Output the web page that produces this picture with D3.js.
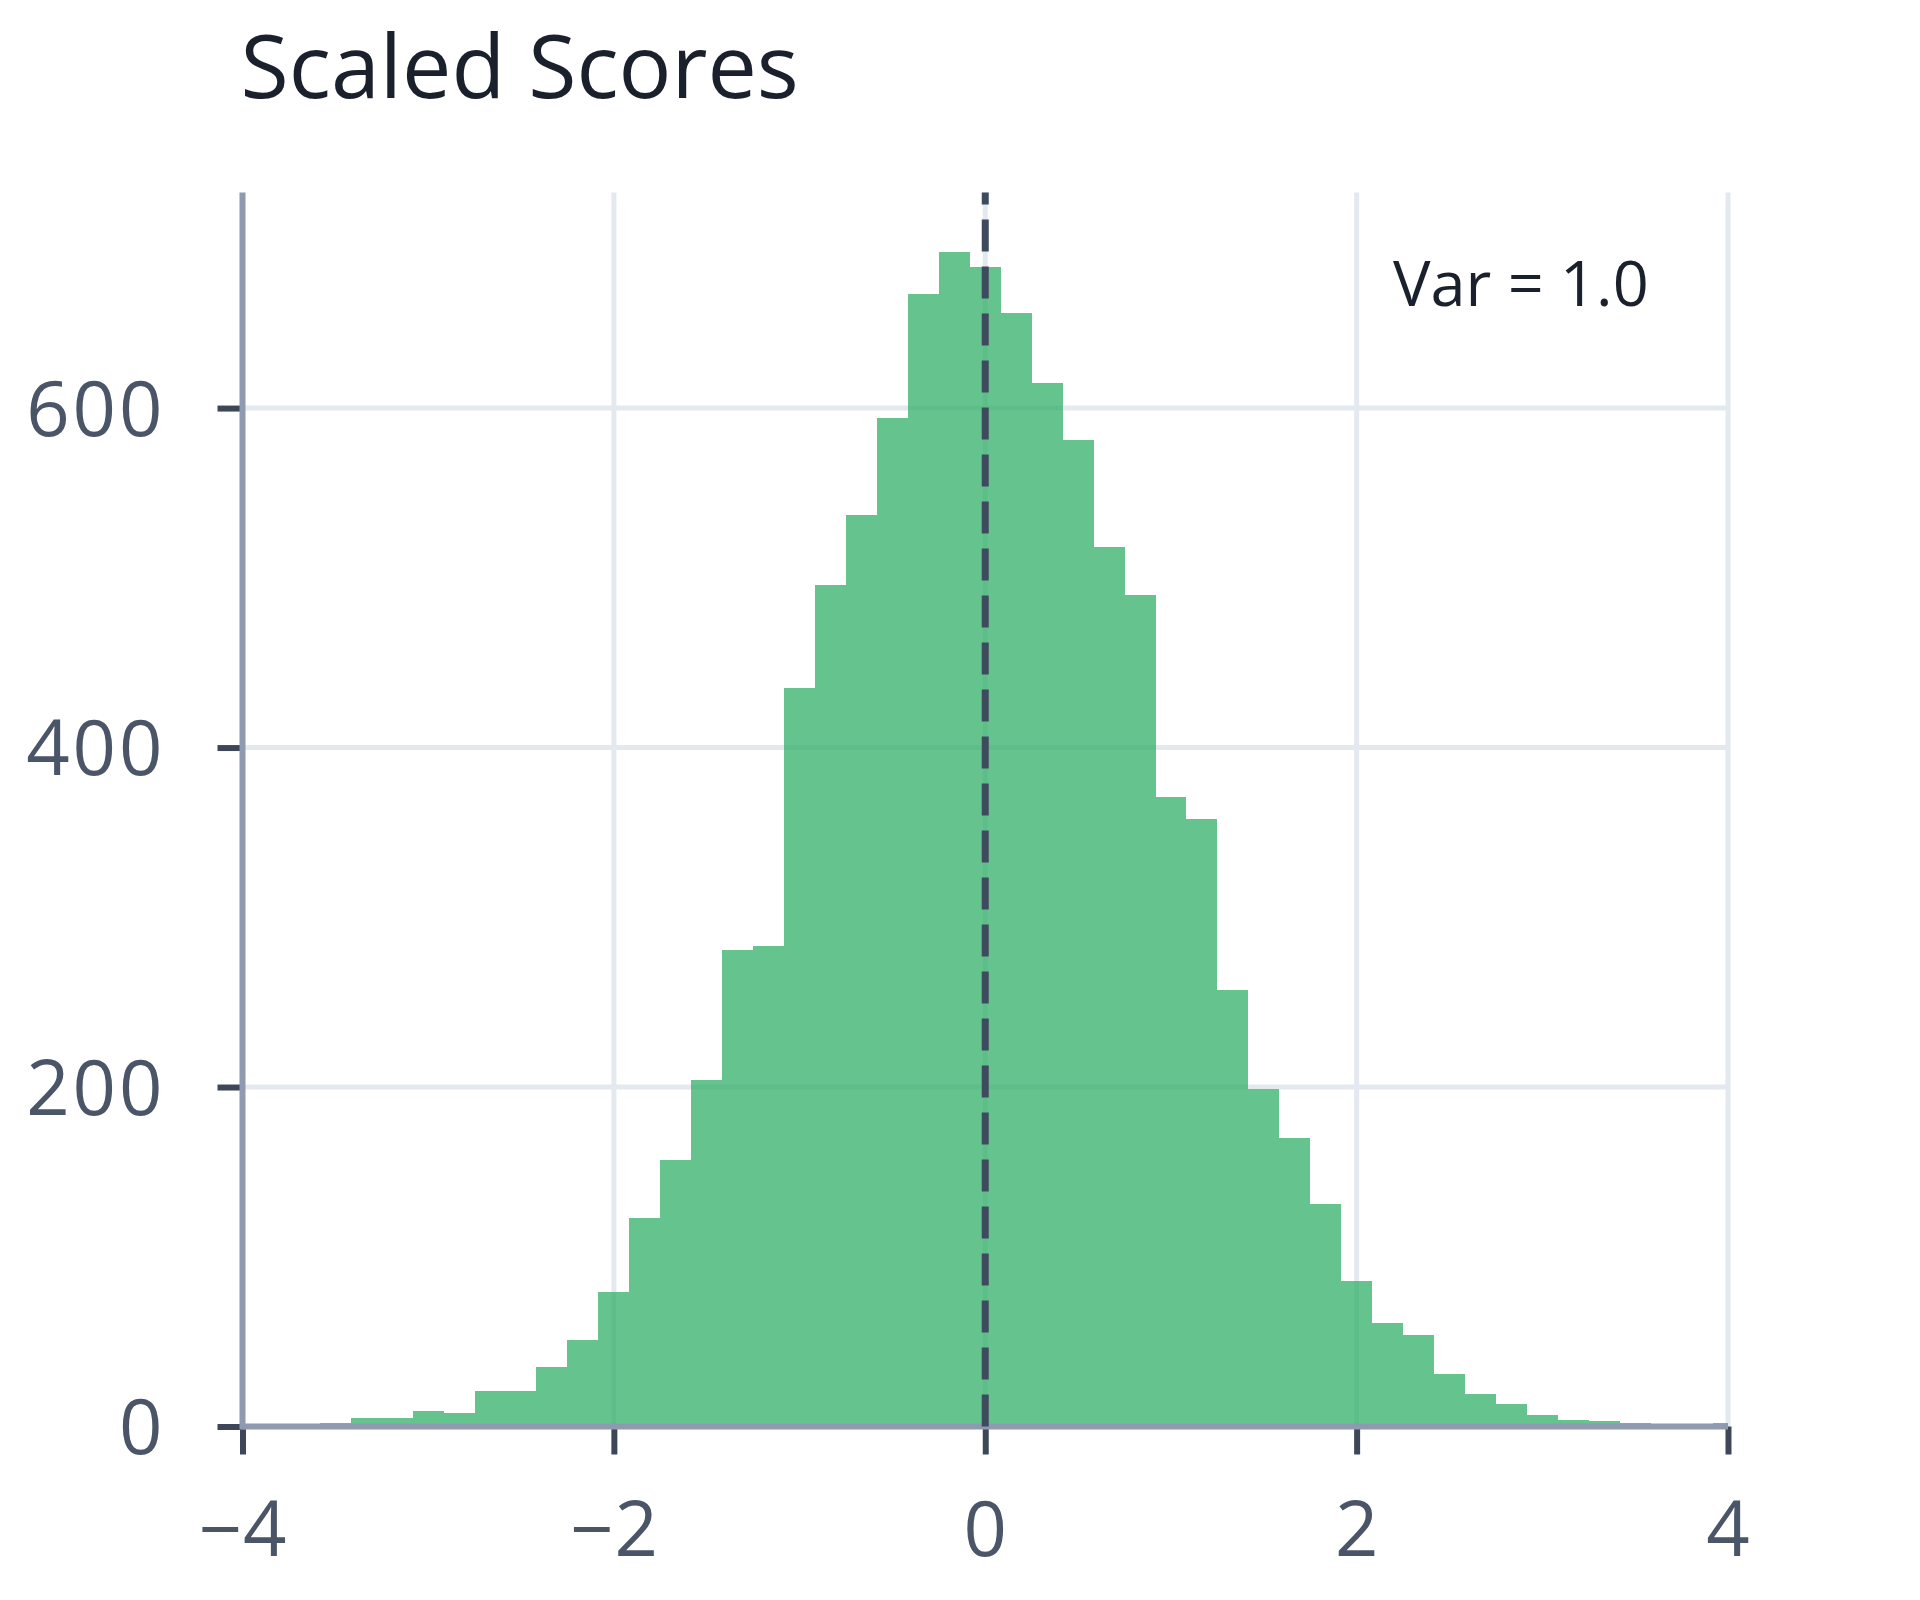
<!DOCTYPE html>
<html>
<head>
<meta charset="utf-8">
<title>Scaled Scores</title>
<script src="https://cdn.jsdelivr.net/npm/d3@7"></script>
<style>
    html, body { margin: 0; padding: 0; background: #fff; }
    #chart { width: 1920px; height: 1600px; }
    text { font-family: "Open Sans", "Noto Sans", sans-serif; }
</style>
</head>
<body>
<div id="chart"></div>
<script>
/* --- Data --- */
const binLeftEdges = [
    -3.583, -3.417, -3.250, -3.083, -2.917, -2.750, -2.583, -2.417, -2.250, -2.083,
    -1.917, -1.750, -1.583, -1.417, -1.250, -1.083, -0.917, -0.750, -0.583, -0.417,
    -0.250, -0.083, 0.083, 0.250, 0.417, 0.583, 0.750, 0.917, 1.083, 1.250,
    1.417, 1.583, 1.750, 1.917, 2.083, 2.250, 2.417, 2.583, 2.750, 2.917,
    3.083, 3.250, 3.417, 3.583, 3.750, 3.917
];
const binWidth = 0.1667;
const counts = [
    2, 5, 5, 9, 8, 21, 21, 35, 51, 79,
    123, 157, 204, 281, 283, 435, 496, 537, 594, 667,
    692, 683, 656, 615, 581, 518, 490, 371, 358, 257,
    199, 170, 131, 86, 61, 54, 31, 19, 13, 7,
    4, 3, 2, 1, 1, 2
];
const xDomain = [-4, 4];
const yDomain = [0, 727];
const xTicks = [-4, -2, 0, 2, 4];
const yTicks = [0, 200, 400, 600];
const meanLine = 0;
const title = "Scaled Scores";
const note = "Var = 1.0";

const CONFIG = {
    width: 1920,
    height: 1600,
    plot: { left: 242.5, right: 1728, top: 192.5, bottom: 1426.5 },
    colors: {
        bar: '#32b068',
        grid: '#e4e8ef',
        axis: '#8e9ab0',
        tick: '#3d4758',
        label: '#4a5568',
        title: '#1a202c',
        mean: '#3f4a5e'
    }
};

const svg = d3.select("#chart").append("svg")
    .attr("width", CONFIG.width)
    .attr("height", CONFIG.height);

const P = CONFIG.plot;
const x = d3.scaleLinear().domain(xDomain).range([P.left, P.right]);
const y = d3.scaleLinear().domain(yDomain).range([P.bottom, P.top]);

// Grid
svg.append("g")
    .selectAll("line")
    .data(xTicks.filter(d => d !== xDomain[0]))
    .join("line")
    .attr("x1", d => x(d)).attr("x2", d => x(d))
    .attr("y1", P.top).attr("y2", P.bottom)
    .attr("stroke", CONFIG.colors.grid)
    .attr("stroke-width", 5);

svg.append("g")
    .selectAll("line")
    .data(yTicks.filter(d => d !== 0))
    .join("line")
    .attr("x1", P.left).attr("x2", P.right)
    .attr("y1", d => y(d)).attr("y2", d => y(d))
    .attr("stroke", CONFIG.colors.grid)
    .attr("stroke-width", 5);

// Bars - each bar ends where the next one starts, so no seams
const bins = binLeftEdges.map((x0, i) => ({
    x0: x0,
    x1: i < binLeftEdges.length - 1 ? binLeftEdges[i + 1] : Math.min(x0 + binWidth, xDomain[1]),
    count: counts[i]
}));

svg.append("g")
    .attr("fill", CONFIG.colors.bar)
    .attr("fill-opacity", 0.75)
    .selectAll("rect")
    .data(bins)
    .join("rect")
    .attr("shape-rendering", "crispEdges")
    .attr("x", d => Math.round(x(d.x0)))
    .attr("width", d => Math.round(x(d.x1)) - Math.round(x(d.x0)))
    .attr("y", d => y(d.count))
    .attr("height", d => y(0) - y(d.count));

// Axes
const xAxis = svg.append("g")
    .attr("transform", `translate(0,${y(0)})`)
    .call(d3.axisBottom(x).tickValues(xTicks).tickSize(28).tickPadding(48)
        .tickFormat(d => d < 0 ? "\u2212" + Math.abs(d) : d));

const yAxis = svg.append("g")
    .attr("transform", `translate(${x(xDomain[0])},0)`)
    .call(d3.axisLeft(y).tickValues(yTicks).tickSize(25).tickPadding(52));

[xAxis, yAxis].forEach(g => {
    g.select(".domain").remove();
    g.selectAll(".tick line")
        .attr("stroke", CONFIG.colors.tick)
        .attr("stroke-width", 6);
    g.selectAll(".tick text")
        .attr("fill", CONFIG.colors.label)
        .attr("font-size", 76)
        .attr("font-family", '"Open Sans", "Noto Sans", sans-serif');
});
yAxis.selectAll(".tick text").attr("dy", "0.36em").attr("letter-spacing", 3);
xAxis.selectAll(".tick text").attr("letter-spacing", 1);

svg.append("line")
    .attr("x1", P.left).attr("x2", P.right)
    .attr("y1", y(0)).attr("y2", y(0))
    .attr("stroke", CONFIG.colors.axis)
    .attr("stroke-width", 6);

svg.append("line")
    .attr("x1", x(xDomain[0])).attr("x2", x(xDomain[0]))
    .attr("y1", P.top).attr("y2", y(0) + 3)
    .attr("stroke", CONFIG.colors.axis)
    .attr("stroke-width", 6);

// Mean line (dashes start at the baseline)
svg.append("line")
    .attr("x1", x(meanLine)).attr("x2", x(meanLine))
    .attr("y1", y(0)).attr("y2", P.top)
    .attr("stroke", CONFIG.colors.mean)
    .attr("stroke-width", 7)
    .attr("stroke-dasharray", "32,15");

// Title
svg.append("text")
    .attr("x", P.left - 2)
    .attr("y", 98)
    .attr("fill", CONFIG.colors.title)
    .attr("font-size", 88)
    .text(title);

// Annotation
svg.append("text")
    .attr("x", 1393)
    .attr("y", 306)
    .attr("fill", CONFIG.colors.title)
    .attr("font-size", 63)
    .text(note);
</script>
</body>
</html>
